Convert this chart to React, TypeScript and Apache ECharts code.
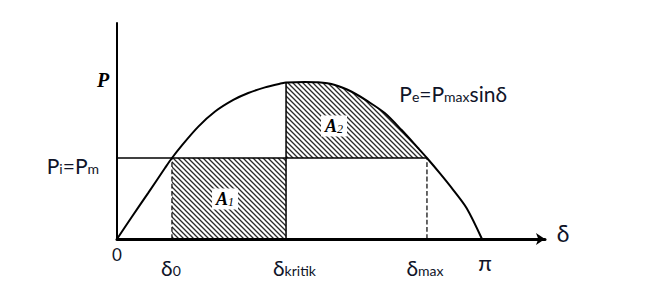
import React, { useEffect, useRef } from "react";
import * as echarts from "echarts";

// Power-angle curve (delta in rad, P in units of Pmax)
const curveDelta = [
  0, 0.127, 0.269, 0.413, 0.473, 0.557, 0.7, 0.844, 1.001, 1.13, 1.274, 1.418, 1.455, 1.618, 1.73, 1.876,
  2.02, 2.163, 2.307, 2.45, 2.593, 2.668, 2.78, 2.895, 3.01, 3.1416,
];
const curveP = [
  0, 0.14, 0.294, 0.452, 0.516, 0.595, 0.716, 0.812, 0.886, 0.93, 0.966, 0.992, 0.997, 1.0, 0.998, 0.981,
  0.938, 0.875, 0.801, 0.694, 0.578, 0.516, 0.418, 0.312, 0.196, 0,
];

const Pm = 0.516;
const delta0 = 0.473;
const deltaKritik = 1.455;
const PKritik = 0.997;
const deltaMax = 2.668;
const deltaPi = 3.1416;

const xMax = 3.684;
const yMax = 1.376;

const SANS = "Lato";
const SERIF = "Liberation Serif";
const INK = "#0f1428";

export default function App() {
  const ref = useRef<HTMLDivElement>(null);

  useEffect(() => {
    if (!ref.current) return;
    const chart = echarts.init(ref.current, null, { renderer: "svg" });

    const canvas = document.createElement("canvas");
    canvas.width = 5;
    canvas.height = 5;
    const ctx = canvas.getContext("2d")!;
    ctx.strokeStyle = "#2a2a2a";
    ctx.lineWidth = 1.3;
    ctx.beginPath();
    ctx.moveTo(-1, -1);
    ctx.lineTo(6, 6);
    ctx.moveTo(-1, 4);
    ctx.lineTo(1, 6);
    ctx.moveTo(4, -1);
    ctx.lineTo(6, 1);
    ctx.stroke();
    const hatch: any = { image: canvas, repeat: "repeat", imageWidth: 5, imageHeight: 5 };

    const curve = curveDelta.map((d, i) => [d, curveP[i]]);
    const a2 = curve.filter((p) => p[0] >= deltaKritik && p[0] <= deltaMax);
    const smooth = 0.3;

    const blackLine = (data: number[][], type: string = "solid", width = 1.3) => ({
      type: "line",
      data,
      symbol: "none",
      silent: true,
      lineStyle: { color: "#000", width, type },
      z: 5,
    });

    chart.setOption({
      animation: false,
      grid: { left: 117, right: 112, top: 23, bottom: 52 },
      xAxis: {
        type: "value",
        min: 0,
        max: xMax,
        z: 10,
        axisLine: {
          show: true,
          lineStyle: { color: "#000", width: 3 },
          symbol: ["none", "arrow"],
          symbolSize: [9, 9],
        },
        axisTick: { show: false },
        axisLabel: { show: false },
        splitLine: { show: false },
      },
      yAxis: {
        type: "value",
        min: 0,
        max: yMax,
        z: 10,
        axisLine: { show: true, lineStyle: { color: "#000", width: 2 } },
        axisTick: { show: false },
        axisLabel: { show: false },
        splitLine: { show: false },
      },
      series: [
        {
          type: "line",
          data: [
            [delta0, Pm],
            [deltaKritik, Pm],
          ],
          symbol: "none",
          silent: true,
          lineStyle: { width: 0 },
          areaStyle: { color: hatch, opacity: 1 },
          z: 2,
        },
        {
          type: "line",
          data: a2,
          smooth,
          symbol: "none",
          silent: true,
          lineStyle: { width: 0 },
          areaStyle: { color: hatch, opacity: 1, origin: Pm },
          z: 2,
        },
        {
          type: "line",
          data: curve,
          smooth,
          symbol: "none",
          silent: true,
          lineStyle: { color: "#000", width: 2 },
          z: 6,
        },
        blackLine([
          [0, Pm],
          [deltaMax, Pm],
        ]),
        blackLine([
          [deltaKritik, 0],
          [deltaKritik, PKritik],
        ], "solid", 1.5),
        blackLine([
          [delta0, 0],
          [delta0, Pm],
        ], "dashed", 1.2),
        blackLine([
          [deltaMax, 0],
          [deltaMax, Pm],
        ], "dashed", 1.2),
      ],
    });

    const px = (x: number, y: number) => chart.convertToPixel({ gridIndex: 0 }, [x, y]) as number[];
    const o = px(0, 0);
    const y0 = o[1];
    const n = { fontFamily: SANS, fontSize: 21, fill: INK, verticalAlign: "bottom" };
    const s = { fontFamily: SANS, fontSize: 14, fill: INK, verticalAlign: "bottom" };
    const rich = { n, s };
    const txt = (x: number, y: number, text: string, align = "center", extra: any = {}) => ({
      type: "text",
      x,
      y,
      silent: true,
      z: 20,
      style: { text, rich, align, verticalAlign: "middle", ...extra },
    });

    const serifN = {
      fontFamily: SERIF,
      fontStyle: "italic",
      fontWeight: "bold",
      fontSize: 18,
      fill: "#000",
      verticalAlign: "bottom",
    };
    const serifS = {
      fontFamily: SERIF,
      fontStyle: "italic",
      fontSize: 12,
      fill: "#000",
      verticalAlign: "bottom",
    };
    const a1p = px(0.93, 0.255);
    const a2p = px(1.868, 0.72);
    const fp = px(2.43, 0.93);
    const pmY = px(0, Pm)[1];

    const areaLabel = (p: number[], k: string) => ({
      type: "text",
      x: p[0],
      y: p[1],
      silent: true,
      z: 20,
      style: {
        text: `{a|A}{b|${k}}`,
        rich: { a: serifN, b: serifS },
        align: "center",
        verticalAlign: "middle",
        backgroundColor: "#fff",
        padding: [2, 4, 1, 4],
      },
    });

    chart.setOption({
      graphic: [
        txt(o[0], y0 + 15, "0", "center", { fontFamily: SANS, fontSize: 17, fill: INK }),
        txt(px(delta0, 0)[0] - 1, y0 + 28, "{n|δ}{s|0}"),
        txt(px(deltaKritik, 0)[0] - 13, y0 + 28, "{n|δ}{s|kritik}", "left"),
        txt(px(deltaMax, 0)[0] - 2, y0 + 28, "{n|δ}{s|max}"),
        txt(px(deltaPi, 0)[0] + 3, y0 + 23, "π", "center", { fontFamily: SANS, fontSize: 22, fill: INK }),
        txt(px(xMax, 0)[0] + 18, y0 - 6, "δ", "center", { fontFamily: SANS, fontSize: 23, fill: INK }),
        txt(o[0] - 18, pmY + 7, "{n|P}{s|i}{n|=P}{s|m}", "right"),
        txt(fp[0], fp[1], "{n|P}{s|e}{n|=P}{s|max}{n|sinδ}", "left"),
        txt(o[0] - 14, px(0, 1)[1] - 2, "P", "center", {
          fontFamily: SERIF,
          fontStyle: "italic",
          fontWeight: "bold",
          fontSize: 20,
          fill: "#000",
        }),
        areaLabel(a1p, "1"),
        areaLabel(a2p, "2"),
      ],
    });

    return () => chart.dispose();
  }, []);

  return (
    <div
      ref={ref}
      style={{ position: "fixed", left: 0, top: 0, width: 657, height: 291, background: "#fff" }}
    />
  );
}
